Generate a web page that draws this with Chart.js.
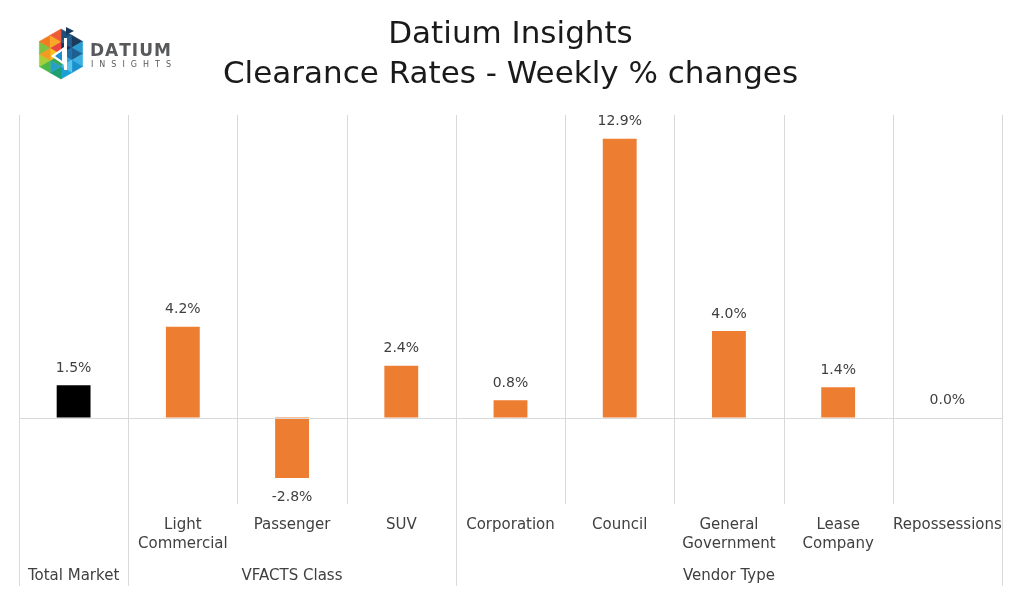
<!DOCTYPE html>
<html>
<head>
<meta charset="utf-8">
<script src="https://cdn.jsdelivr.net/npm/chart.js@4.4.1/dist/chart.umd.min.js"></script>
<style>
  html, body { margin: 0; padding: 0; background: #ffffff; }
  #wrap { width: 1024px; height: 594px; position: relative; }
</style>
</head>
<body>
<div id="wrap"><canvas id="c" width="1024" height="594"></canvas></div>
<script>
// ---- Data ----
const categoryLabels = ['', ['Light', 'Commercial'], 'Passenger', 'SUV', 'Corporation', 'Council', ['General', 'Government'], ['Lease', 'Company'], 'Repossessions'];
const groupNames = ['Total Market', 'VFACTS Class', 'Vendor Type'];
const groupSizes = [1, 3, 5];
const values = [1.5, 4.2, -2.8, 2.4, 0.8, 12.9, 4.0, 1.4, 0.0];
const titleLines = ['Datium Insights', 'Clearance Rates - Weekly % changes'];

const FONT = '"DejaVu Sans", "Liberation Sans", sans-serif';
const ORANGE = '#ED7D31';
const GRID = '#d9d9d9';
const TEXT = '#404040';

const overlayPlugin = {
  id: 'overlay',
  afterDatasetsDraw(chart) {
    const ctx = chart.ctx;
    const x = chart.scales.x, y = chart.scales.y;
    const area = chart.chartArea;
    const n = categoryLabels.length;
    const y0 = y.getPixelForValue(0);
    const bounds = new Set([0]);
    let acc = 0;
    groupSizes.forEach(s => { acc += s; bounds.add(acc); });
    ctx.save();
    ctx.strokeStyle = GRID;
    ctx.lineWidth = 1;
    for (let i = 0; i <= n; i++) {
      const px = Math.round(x.getPixelForValue(i - 0.5)) + 0.5;
      const bottom = bounds.has(i) ? area.bottom + 82 : area.bottom;
      ctx.beginPath();
      ctx.moveTo(px, area.top);
      ctx.lineTo(px, bottom);
      ctx.stroke();
    }
    ctx.beginPath();
    ctx.moveTo(area.left, Math.round(y0) + 0.5);
    ctx.lineTo(area.right, Math.round(y0) + 0.5);
    ctx.stroke();

    // value labels
    ctx.fillStyle = TEXT;
    ctx.font = '14px ' + FONT;
    ctx.textAlign = 'center';
    ctx.textBaseline = 'middle';
    const meta = chart.getDatasetMeta(0);
    meta.data.forEach((bar, i) => {
      const v = values[i];
      const txt = v.toFixed(1) + '%';
      if (v >= 0) ctx.fillText(txt, bar.x, bar.y - 17);
      else ctx.fillText(txt, bar.x, bar.y + 19);
    });

    // inner category labels
    ctx.font = '15px ' + FONT;
    categoryLabels.forEach((lab, i) => {
      const cx = x.getPixelForValue(i);
      const lines = Array.isArray(lab) ? lab : [lab];
      lines.forEach((ln, k) => ctx.fillText(ln, cx, area.bottom + 21 + k * 19));
    });
    // group labels
    let start = 0;
    groupNames.forEach((g, gi) => {
      const end = start + groupSizes[gi] - 1;
      const cx = (x.getPixelForValue(start) + x.getPixelForValue(end)) / 2;
      ctx.fillText(g, cx, area.bottom + 72);
      start = end + 1;
    });
    ctx.restore();

    drawLogo(ctx);
  }
};

function drawLogo(ctx) {
  const cx = 61, cy = 54, r = 25;
  const verts = [];
  for (let k = 0; k < 6; k++) {
    const a = (-90 + 60 * k) * Math.PI / 180;
    verts.push([cx + r * Math.cos(a), cy + r * Math.sin(a)]);
  }
  const sectorColors = [
    ['#16365c', '#1d4f7c', '#245f91', '#1b3a5c'],
    ['#1f6fa8', '#2a9bd0', '#1e5f92', '#3cb0e0'],
    ['#2aa6dc', '#1b90cf', '#5cc3ea', '#1aa0d6'],
    ['#34a853', '#1f9e6e', '#27a0c8', '#4db748'],
    ['#f6c21c', '#a9cf38', '#f39a1f', '#7dc142'],
    ['#e8463f', '#f47a20', '#f9a825', '#ef5a36']
  ];
  ctx.save();
  for (let k = 0; k < 6; k++) {
    const A = [cx, cy], B = verts[k], C = verts[(k + 1) % 6];
    const mAB = [(A[0] + B[0]) / 2, (A[1] + B[1]) / 2];
    const mBC = [(B[0] + C[0]) / 2, (B[1] + C[1]) / 2];
    const mCA = [(C[0] + A[0]) / 2, (C[1] + A[1]) / 2];
    const tris = [[A, mAB, mCA], [mAB, B, mBC], [mAB, mBC, mCA], [mCA, mBC, C]];
    tris.forEach((t, j) => {
      ctx.beginPath();
      ctx.moveTo(t[0][0], t[0][1]);
      ctx.lineTo(t[1][0], t[1][1]);
      ctx.lineTo(t[2][0], t[2][1]);
      ctx.closePath();
      ctx.fillStyle = sectorColors[k][j];
      ctx.fill();
      ctx.strokeStyle = sectorColors[k][j];
      ctx.lineWidth = 0.6;
      ctx.stroke();
    });
  }
  ctx.fillStyle = '#ffffff';
  ctx.fillRect(64, 38, 3, 32);
  ctx.beginPath();
  ctx.moveTo(64, 47); ctx.lineTo(51, 56); ctx.lineTo(64, 65); ctx.closePath();
  ctx.fill();
  ctx.fillStyle = '#1b8fd0';
  ctx.beginPath();
  ctx.moveTo(62, 51); ctx.lineTo(55, 56); ctx.lineTo(62, 61); ctx.closePath();
  ctx.fill();
  ctx.fillStyle = '#16365c';
  ctx.beginPath();
  ctx.moveTo(66, 27); ctx.lineTo(74, 31); ctx.lineTo(66, 35); ctx.closePath();
  ctx.fill();

  ctx.fillStyle = '#58595b';
  ctx.textBaseline = 'alphabetic';
  ctx.textAlign = 'left';
  const spaced = (txt, x0, yb, font, sp) => {
    ctx.font = font;
    let xx = x0;
    for (const ch of txt) {
      ctx.fillText(ch, xx, yb);
      xx += ctx.measureText(ch).width + sp;
    }
  };
  spaced('DATIUM', 90, 56, 'bold 17px ' + FONT, 1);
  spaced('INSIGHTS', 91, 67, '8px ' + FONT, 6);
  ctx.restore();
}

new Chart(document.getElementById('c'), {
  type: 'bar',
  data: {
    labels: categoryLabels,
    datasets: [{
      data: values,
      backgroundColor: values.map((v, i) => i === 0 ? '#000000' : ORANGE),
      borderWidth: 0,
      barPercentage: 0.31,
      categoryPercentage: 1.0
    }]
  },
  options: {
    responsive: false,
    devicePixelRatio: 1,
    animation: false,
    layout: { padding: { left: 19, right: 22, top: 0, bottom: 90 } },
    plugins: {
      legend: { display: false },
      tooltip: { enabled: false },
      title: {
        display: true,
        text: titleLines,
        color: '#1a1a1a',
        font: { family: FONT, size: 31, weight: 'normal', lineHeight: 40 / 31 },
        padding: { top: 15, bottom: 20 }
      }
    },
    scales: {
      x: { display: false, offset: true, grid: { display: false } },
      y: { display: false, min: -4, max: 14, grid: { display: false } }
    }
  },
  plugins: [overlayPlugin]
});
</script>
</body>
</html>
